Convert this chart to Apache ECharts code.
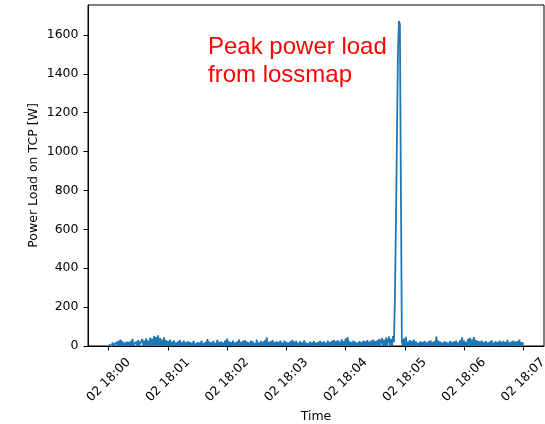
<!DOCTYPE html>
<html><head><meta charset="utf-8">
<script src="https://cdn.jsdelivr.net/npm/echarts@6/dist/echarts.min.js"></script>
<style>html,body{margin:0;padding:0;background:#fff}#c{width:545px;height:424px}</style>
</head><body><div id="c"></div>
<script>
// Power load samples [W], one per second starting 02 18:00:00
const powerLoad = [
 8, 1, 14, 0, 18, 2, 12, 0, 20, 3, 28, 1, 33, 2, 24, 0, 17, 1, 22, 0,
 19, 2, 25, 0, 36, 3, 9, 1, 23, 0, 30, 4, 12, 0, 35, 2, 27, 1, 39, 3,
 28, 0, 43, 2, 36, 1, 51, 4, 46, 0, 55, 3, 40, 1, 33, 2, 45, 0, 30, 2,
 25, 1, 33, 0, 22, 3, 29, 1, 17, 0, 24, 2, 31, 0, 20, 1, 27, 3, 18, 0,
 23, 1, 21, 0, 17, 2, 26, 0, 13, 1, 19, 3, 16, 0, 28, 2, 14, 0, 21, 1,
 35, 2, 22, 0, 18, 1, 26, 3, 15, 0, 31, 2, 19, 0, 24, 1, 17, 0, 29, 2,
 38, 0, 24, 1, 20, 3, 27, 0, 16, 2, 23, 1, 33, 0, 21, 2, 26, 0, 30, 1,
 22, 0, 18, 2, 27, 1, 24, 0, 14, 3, 32, 1, 17, 0, 26, 2, 21, 0, 29, 1,
 44, 2, 19, 0, 25, 1, 30, 3, 18, 0, 24, 1, 21, 2, 27, 0, 17, 1, 28, 0,
 20, 3, 16, 0, 25, 1, 31, 2, 22, 0, 26, 1, 15, 3, 24, 0, 18, 1, 29, 0,
 17, 2, 14, 0, 22, 1, 18, 3, 25, 0, 15, 2, 20, 0, 27, 1, 19, 0, 23, 2,
 16, 0, 28, 1, 20, 2, 26, 0, 31, 1, 24, 3, 29, 0, 22, 2, 34, 0, 25, 1,
 38, 0, 46, 2, 24, 1, 19, 0, 27, 3, 21, 0, 16, 2, 25, 1, 20, 0, 28, 1,
 23, 0, 30, 2, 22, 1, 27, 0, 33, 3, 24, 1, 29, 0, 36, 2, 25, 40, 2, 31,
 1, 43, 2, 28, 48, 3, 35, 1, 51, 20, 260, 640, 1070, 1500, 1672, 1655, 830, 20, 2, 38,
 1, 47, 0, 21, 2, 30, 1, 25, 0, 33, 2, 22, 28, 0, 17, 2, 24, 1, 20, 0,
 26, 1, 18, 0, 23, 2, 29, 1, 20, 0, 25, 3, 48, 0, 27, 1, 22, 2, 16, 0,
 24, 1, 21, 0, 17, 2, 26, 0, 19, 1, 23, 0, 28, 2, 18, 1, 30, 0, 45, 2,
 27, 0, 21, 1, 36, 3, 42, 0, 33, 2, 46, 1, 30, 0, 26, 2, 23, 0, 28, 1,
 20, 0, 25, 2, 18, 0, 22, 1, 29, 0, 17, 3, 24, 0, 19, 2, 27, 1, 21, 0,
 26, 1, 20, 0, 31, 2, 18, 0, 24, 1, 28, 3, 21, 0, 25, 2, 33, 0, 19, 2,
 18
];
const xTickSeconds = [0, 60, 120, 180, 240, 300, 360, 420];
const xTickLabels = ['02 18:00', '02 18:01', '02 18:02', '02 18:03', '02 18:04', '02 18:05', '02 18:06', '02 18:07'];
const yTicks = [0, 200, 400, 600, 800, 1000, 1200, 1400, 1600];
const annotation = 'Peak power load\nfrom lossmap';

const seriesData = powerLoad.map((v, i) => [i, v]);
const chart = echarts.init(document.getElementById('c'), null, {renderer: 'canvas'});
const tickFont = {fontFamily: 'DejaVu Sans', fontSize: 12.5, color: '#000'};
chart.setOption({
  animation: false,
  backgroundColor: '#fff',
  grid: {left: 88, top: 5, width: 456, height: 341, show: true, borderColor: '#000', borderWidth: 1,
         backgroundColor: 'transparent', containLabel: false, outerBoundsMode: 'none'},
  xAxis: {
    type: 'value', min: -21, max: 441,
    name: 'Time', nameLocation: 'middle', nameGap: 64, nameMoveOverlap: false,
    nameTextStyle: {fontFamily: 'DejaVu Sans', fontSize: 12.5, color: '#000'},
    axisLine: {show: true, onZero: false, lineStyle: {color: '#000', width: 1}},
    axisTick: {show: true, length: 4.5, lineStyle: {color: '#000', width: 1}, customValues: xTickSeconds},
    axisLabel: Object.assign({
      customValues: xTickSeconds, rotate: 45, margin: 34, align: 'center', verticalAlign: 'middle',
      hideOverlap: false,
      formatter: v => xTickLabels[xTickSeconds.indexOf(v)]
    }, tickFont),
    splitLine: {show: false}
  },
  yAxis: {
    type: 'value', min: 0, max: 1754,
    name: 'Power Load on TCP [W]', nameLocation: 'middle', nameGap: 48, nameMoveOverlap: false,
    nameTextStyle: {fontFamily: 'DejaVu Sans', fontSize: 12.5, color: '#000'},
    axisLine: {show: true, onZero: false, lineStyle: {color: '#000', width: 1}},
    axisTick: {show: true, length: 4.5, lineStyle: {color: '#000', width: 1}, customValues: yTicks},
    axisLabel: Object.assign({customValues: yTicks, margin: 9.5, formatter: v => String(v)}, tickFont),
    splitLine: {show: false}
  },
  series: [{
    type: 'line', data: seriesData, showSymbol: false, symbol: 'none',
    lineStyle: {color: '#1f77b4', width: 1.8}, itemStyle: {color: '#1f77b4'}
  }],
  graphic: [{
    type: 'text', left: 208, top: 33,
    style: {text: annotation, fill: '#ff0000', font: '24px "Liberation Sans"', lineHeight: 28.5}
  }]
});
</script></body></html>
